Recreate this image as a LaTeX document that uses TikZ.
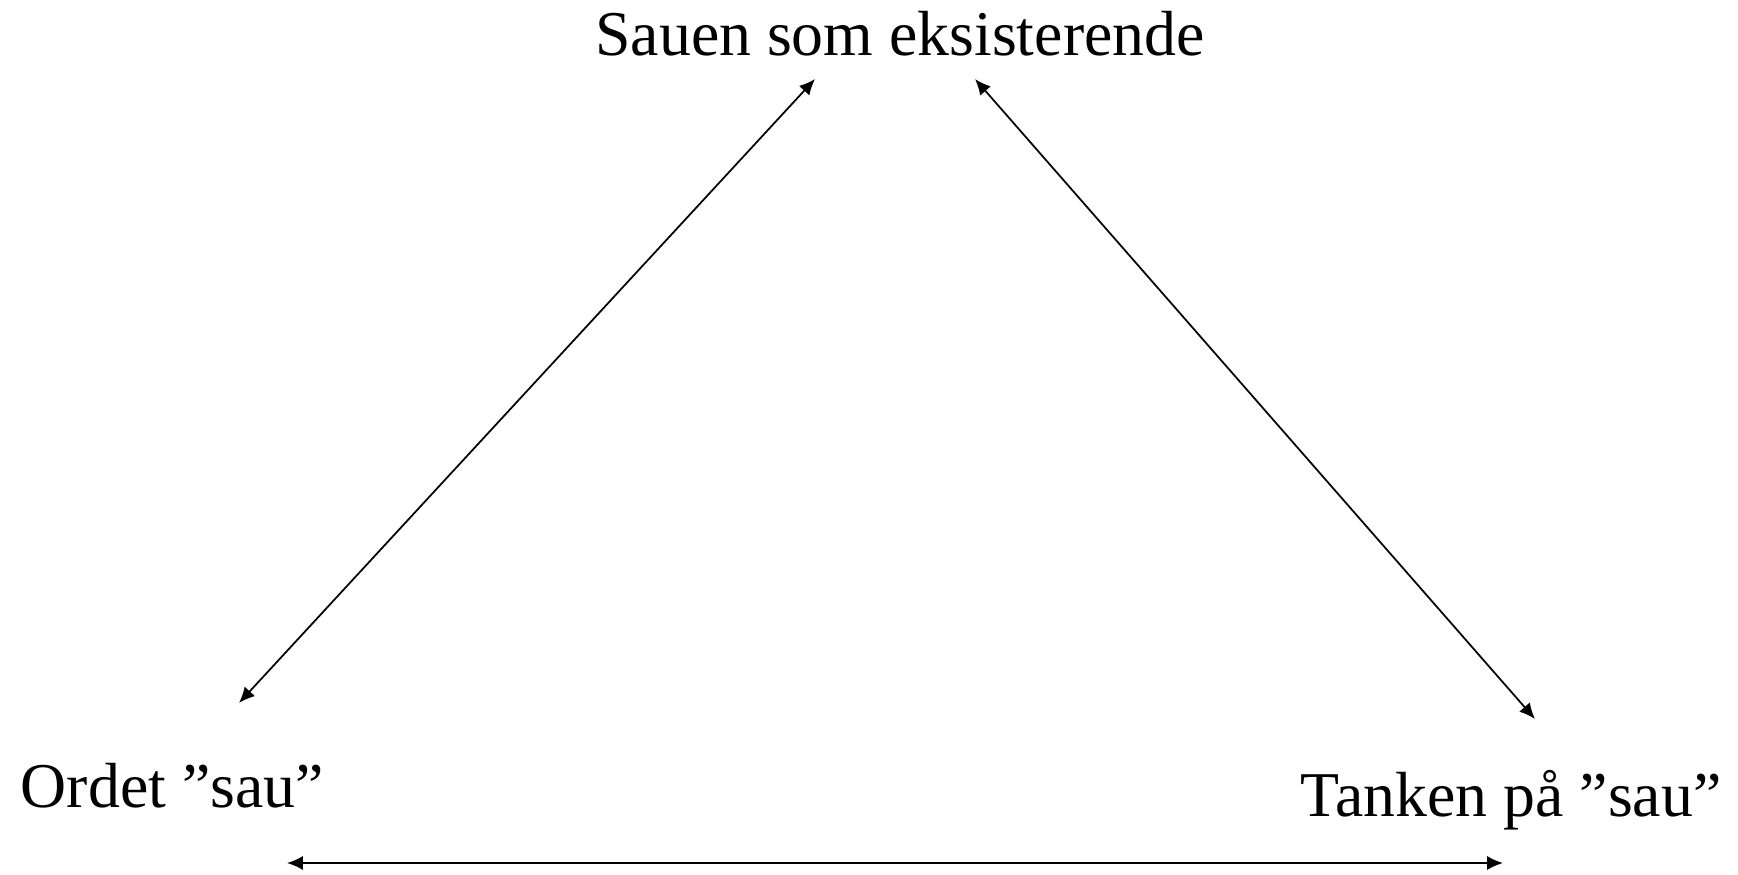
\documentclass[tikz,border=0pt]{standalone}
\usepackage{fontspec}
\setmainfont{Liberation Serif}
\usetikzlibrary{arrows.meta}
\begin{document}
\begin{tikzpicture}
  [x=.02cm,y=-.02cm,line width=1pt,>={Latex[length=9pt,width=8pt]},
   every node/.style={inner sep=0pt,font=\fontsize{36.3}{40}\selectfont}]
  \useasboundingbox (0,0) rectangle (1738,875);
  \node[anchor=base] (t1) at (900,56) {Sauen som eksisterende};
  \node[anchor=base west] (t2) at (20,807) {Ordet ”sau”};
  \node[anchor=base west] (t3) at (1300,816) {Tanken på ”sau”};

  \coordinate (a1) at (815,79);
  \coordinate (a2) at (239,703);
  \coordinate (a3) at (975,79);
  \coordinate (a4) at (1535,719);
  \coordinate (a5) at (287,863);
  \coordinate (a6) at (1503,863);

   \foreach \from/\to in {a1/a2,a3/a4,a5/a6}
    \draw[<->] (\from) -- (\to);
    \end{tikzpicture}
\end{document}
